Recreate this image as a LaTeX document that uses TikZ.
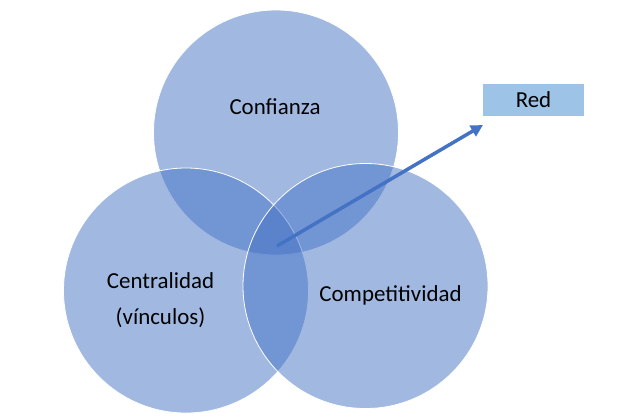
\documentclass[tikz,border=0pt]{standalone}
\usepackage{fontspec}
\setmainfont{Carlito}
\usepackage{xcolor}
\usetikzlibrary{arrows.meta}
\definecolor{accent}{HTML}{4472C4}
\definecolor{redbox}{HTML}{9DC3E6}

\begin{document}
\begin{tikzpicture}[x=1bp, y=-1bp, every node/.style={inner sep=0pt, font=\fontsize{23}{36}\selectfont},
  set/.style={circle, minimum size=245bp, fill=accent, fill opacity=0.5, draw=white, line width=0.8bp},
  label/.style={text=black, align=center}]
  \useasboundingbox (0,0) rectangle (628,419);
  % the three sets
  \node[set](conf) at (276,132.5){};
  \node[set](cent) at (186,290.5){};
  \node[set](comp) at (365.5,286){};
  \node[label](confL) at (275,114) [anchor=base]{Confianza};
  \node[label](centL) at (160.5,324) [anchor=base]{Centralidad\\(vínculos)};
  \node[label](compL) at (390.5,301) [anchor=base]{Competitividad};
  % the box and the arrow
  \node[fill=redbox, minimum width=101bp, minimum height=32bp](red) at (533.5,100){Red};
  \coordinate(hub) at (277,246);
  \coordinate(tip) at (483,125);
  \draw[accent, line width=3.5bp, -{Triangle[length=12bp, width=12bp]}] (hub) -- (tip);
\end{tikzpicture}
\end{document}
